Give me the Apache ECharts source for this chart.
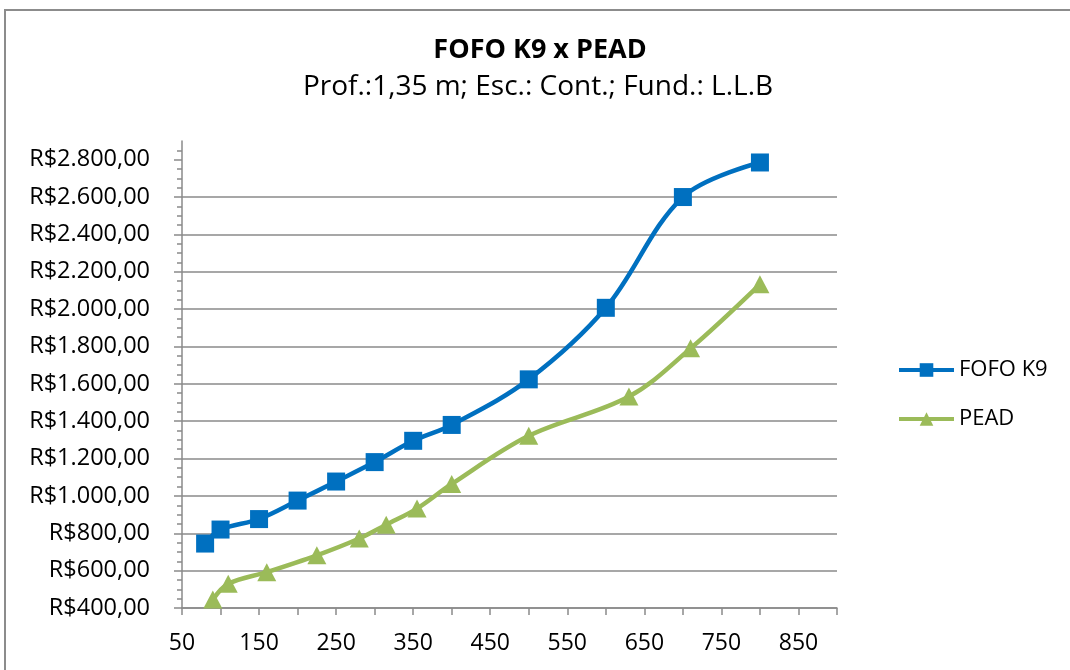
<!DOCTYPE html>
<html>
<head>
<meta charset="utf-8">
<script src="https://cdn.jsdelivr.net/npm/echarts@6/dist/echarts.min.js"></script>
<style>
html,body{margin:0;padding:0;background:#fff;}
#chart{width:1070px;height:670px;}
</style>
</head>
<body>
<div id="chart"></div>
<script>
var titleText = 'FOFO K9 x PEAD';
var subtitleText = 'Prof.:1,35 m; Esc.: Cont.; Fund.: L.L.B';
var seriesNames = ['FOFO K9', 'PEAD'];

var fofoX = [80, 100, 150, 200, 250, 300, 350, 400, 500, 600, 700, 800];
var fofoY = [745, 820, 876, 975, 1077, 1181, 1295, 1380, 1624, 2007, 2600, 2785];

var peadX = [90, 110, 160, 225, 280, 315, 355, 400, 500, 630, 710, 800];
var peadY = [445, 530, 592, 682, 772, 846, 932, 1064, 1322, 1532, 1790, 2133];

var xTickLabels = [50, 150, 250, 350, 450, 550, 650, 750, 850];
var yTickLabels = [400, 600, 800, 1000, 1200, 1400, 1600, 1800, 2000, 2200, 2400, 2600, 2800];

function pairs(xs, ys) {
  return xs.map(function (x, i) { return [x, ys[i]]; });
}
function brl(v) {
  var s = String(Math.round(v));
  s = s.replace(/\B(?=(\d{3})+(?!\d))/g, '.');
  return 'R$' + s + ',00';
}

var FONT = 'Open Sans';
var GRID = '#8a8a8a';

var chart = echarts.init(document.getElementById('chart'), null, {renderer: 'canvas'});
chart.setOption({
  backgroundColor: '#fff',
  animation: false,
  textStyle: {fontFamily: FONT, color: '#000'},
  graphic: [{
    type: 'rect',
    shape: {x: 5, y: 10, width: 1100, height: 700},
    style: {fill: 'none', stroke: '#8c8c8c', lineWidth: 2},
    z: -1
  }],
  title: [{
    text: titleText,
    left: 540, top: 35, textAlign: 'center', padding: 0,
    textStyle: {fontFamily: FONT, fontWeight: 'bold', fontSize: 27, color: '#000', lineHeight: 30}
  }, {
    text: subtitleText,
    left: 538, top: 71, textAlign: 'center', padding: 0,
    textStyle: {fontFamily: FONT, fontWeight: 'normal', fontSize: 28, color: '#000', lineHeight: 32}
  }],
  legend: {
    orient: 'vertical',
    left: 897, top: 357, padding: 0,
    itemWidth: 55, itemHeight: 17, itemGap: 23,
    data: seriesNames,
    lineStyle: {width: 4},
    textStyle: {fontFamily: FONT, fontSize: 22, color: '#000', lineHeight: 26}
  },
  grid: {left: 182, right: 233, top: 141, bottom: 62, containLabel: false},
  xAxis: {
    type: 'value', min: 50, max: 900, interval: 50,
    axisLine: {show: true, lineStyle: {color: GRID, width: 1.5}},
    axisTick: {show: true, length: 7, lineStyle: {color: GRID, width: 1.5}},
    splitLine: {show: false},
    axisLabel: {
      margin: 24, fontFamily: FONT, fontSize: 23, color: '#000',
      formatter: function (v) { return xTickLabels.indexOf(v) >= 0 ? String(v) : ''; }
    }
  },
  yAxis: {
    type: 'value', min: 400, max: 2900, interval: 200,
    axisLine: {show: true, lineStyle: {color: GRID, width: 1.5}},
    axisTick: {show: true, length: 8, customValues: yTickLabels, lineStyle: {color: GRID, width: 1.5}},
    minorTick: {show: true, splitNumber: 4, length: 5, lineStyle: {color: GRID, width: 1.5}},
    splitLine: {show: true, showMaxLine: false, lineStyle: {color: GRID, width: 1.5}},
    axisLabel: {
      margin: 32, fontFamily: FONT, fontSize: 23.5, color: '#000',
      formatter: function (v) { return yTickLabels.indexOf(v) >= 0 ? brl(v) : ''; }
    }
  },
  series: [{
    name: seriesNames[0], type: 'line', smooth: 0.35,
    data: pairs(fofoX, fofoY),
    symbol: 'rect', symbolSize: 18,
    itemStyle: {color: '#0070C0'},
    lineStyle: {color: '#0070C0', width: 4.5},
    z: 3
  }, {
    name: seriesNames[1], type: 'line', smooth: 0.35,
    data: pairs(peadX, peadY),
    symbol: 'triangle', symbolSize: [19, 18],
    itemStyle: {color: '#9BBB59'},
    lineStyle: {color: '#9BBB59', width: 4.5},
    z: 2
  }]
});
</script>
</body>
</html>
